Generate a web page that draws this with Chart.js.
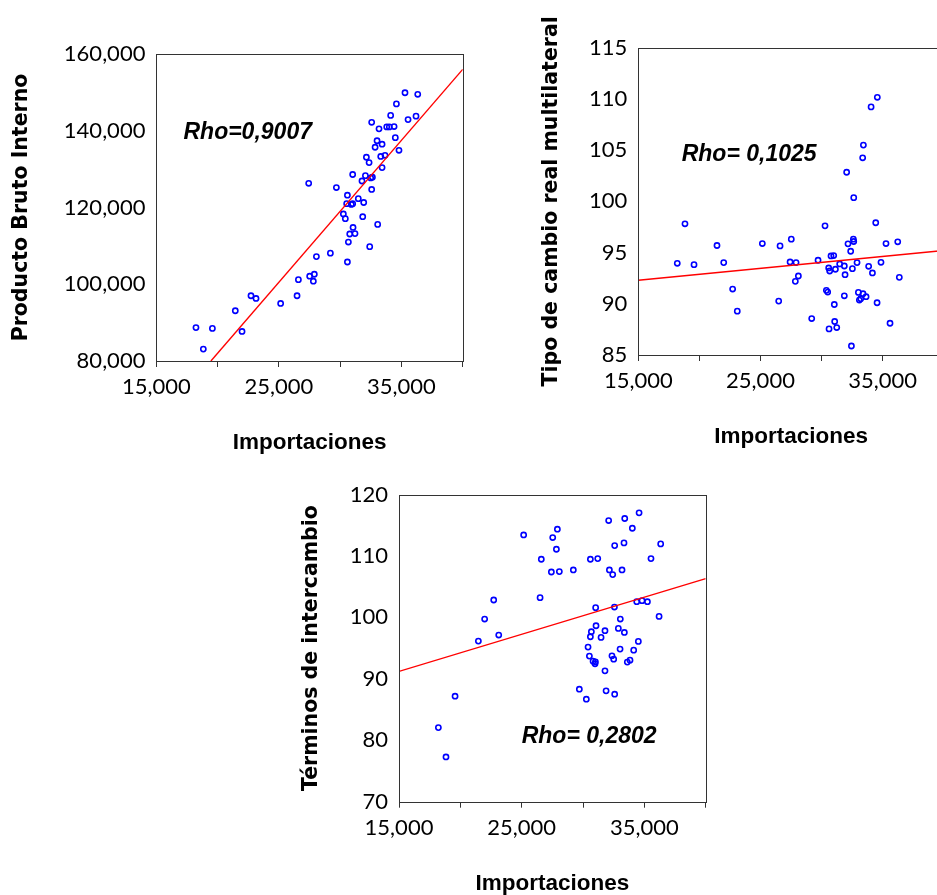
<!DOCTYPE html>
<html><head><meta charset="utf-8">
<script src="https://cdn.jsdelivr.net/npm/chart.js@4.4.1/dist/chart.umd.min.js"></script>
<style>
html,body{margin:0;padding:0;background:#fff;overflow:hidden;width:937px;height:895px;position:relative;}
canvas{position:absolute;}
</style></head><body>
<canvas id="c1" width="480" height="470" style="left:0;top:0"></canvas>
<canvas id="c2" width="474" height="470" style="left:480px;top:0"></canvas>
<canvas id="c3" width="520" height="450" style="left:200px;top:460px"></canvas>
<script>
// ---------- DATA ----------
const xTitle = 'Importaciones';
const xTickValues = [15000, 20000, 25000, 30000, 35000, 40000];
const xTickLabels = ['15,000', '', '25,000', '', '35,000', ''];

// Chart 1: Producto Bruto Interno vs Importaciones
const pbiTitle = 'Producto Bruto Interno';
const pbiTicks = [80000, 100000, 120000, 140000, 160000];
const pbiTickLabels = ['80,000', '100,000', '120,000', '140,000', '160,000'];
const impA = [18230, 19570, 18830, 21440, 21990, 22720, 23130, 25140, 26480, 26590, 27510, 27890, 27810, 28060, 29200, 27430, 29690, 30590, 30670, 30780, 31210, 31050, 32410, 33060, 30260, 30420, 31840, 30530, 30590, 31020, 30910, 31480, 31920, 31020, 31780, 32060, 32490, 32630, 32570, 32140, 32360, 33310, 33660, 33420, 32850, 33010, 33420, 32570, 33170, 33800, 34010, 34400, 34500, 34800, 34120, 34590, 35290, 35540, 36190, 36330];
const pbi = [88700, 88500, 83100, 93100, 87700, 97000, 96300, 95000, 97000, 101200, 102100, 102600, 100800, 107200, 108100, 126300, 125200, 105800, 111000, 113100, 113200, 114800, 109800, 115600, 118300, 117100, 117600, 121000, 123200, 121000, 120800, 122300, 121300, 128600, 126900, 128300, 127700, 127900, 124700, 133100, 131700, 133300, 133600, 130400, 135700, 137400, 136500, 142200, 140500, 141000, 141000, 141100, 138200, 134900, 144000, 147000, 149900, 142900, 143800, 149500];
const pbiFitX = [19450, 40000];
const pbiFitY = [80000, 156000];
const pbiRho = 'Rho=0,9007';

// Chart 2: Tipo de cambio real multilateral vs Importaciones
const tcrmTitle = 'Tipo de cambio real multilateral';
const tcrmTicks = [85, 90, 95, 100, 105, 110, 115];
const tcrmTickLabels = ['85', '90', '95', '100', '105', '110', '115'];
const impB = [18190, 18820, 19560, 21440, 21990, 22720, 23100, 25150, 26490, 26600, 27520, 27420, 27910, 28100, 27850, 29190, 29710, 30280, 30390, 30500, 30580, 30660, 30770, 30990, 31040, 31070, 30610, 31240, 31130, 31480, 31860, 31920, 31860, 32050, 32160, 32380, 32600, 32630, 32630, 32520, 32900, 33010, 33390, 33640, 33090, 33200, 33360, 33420, 33850, 34160, 34050, 34560, 34430, 34540, 34860, 35270, 35600, 36230, 36360, 32440];
const tcrm = [93.95, 97.81, 93.82, 95.69, 94.02, 91.44, 89.28, 95.88, 90.26, 95.65, 96.31, 94.08, 94.02, 92.71, 92.19, 88.56, 94.25, 97.61, 91.31, 91.14, 93.50, 93.20, 94.67, 94.71, 89.93, 88.27, 87.55, 87.68, 93.37, 93.89, 93.69, 92.84, 90.78, 102.84, 95.85, 95.13, 96.31, 96.08, 100.36, 93.43, 94.02, 91.11, 90.98, 90.69, 90.36, 90.49, 104.25, 105.49, 93.66, 93.01, 109.22, 110.16, 97.91, 90.10, 94.05, 95.88, 88.10, 96.05, 92.58, 85.88];
const tcrmFitX = [15000, 40000];
const tcrmFitY = [92.3, 95.2];
const tcrmRho = 'Rho= 0,1025';

// Chart 3: Términos de intercambio vs Importaciones
const tiTitle = 'Términos de intercambio';
const tiTicks = [70, 80, 90, 100, 110, 120];
const tiTickLabels = ['70', '80', '90', '100', '110', '120'];
const impC = [18210, 18830, 19570, 21470, 21980, 22720, 23130, 25160, 26600, 26500, 27420, 27530, 27830, 27910, 28070, 29210, 29700, 30270, 30600, 31200, 31030, 31060, 30680, 30600, 30410, 30520, 30820, 31010, 30980, 31470, 31790, 31790, 31880, 32580, 32090, 32150, 32420, 32580, 32560, 32360, 32500, 32880, 33040, 33020, 33370, 33180, 33340, 33400, 34020, 33610, 33830, 34130, 34380, 34810, 35250, 34510, 34570, 35540, 36200, 36330];
const ti = [82.06, 77.28, 87.17, 96.14, 99.73, 102.83, 97.12, 113.42, 109.46, 103.21, 107.39, 112.99, 111.09, 114.35, 107.45, 107.72, 88.31, 86.68, 109.46, 109.57, 101.58, 98.64, 97.66, 96.85, 95.16, 93.70, 92.88, 92.77, 92.45, 96.74, 97.83, 91.30, 88.04, 87.50, 115.76, 107.72, 106.96, 111.68, 101.68, 93.75, 93.20, 98.21, 99.73, 94.84, 97.55, 107.72, 112.12, 116.09, 114.51, 92.72, 93.04, 94.67, 102.55, 102.72, 102.55, 96.09, 117.01, 109.57, 100.16, 111.96];
const tiFitX = [15000, 40000];
const tiFitY = [91.2, 106.3];
const tiRho = 'Rho= 0,2802';

// ---------- RENDER ----------
Chart.defaults.font.family = 'Lato';
Chart.defaults.color = '#000';

const boxPlugin = {
  id: 'box',
  afterDatasetsDraw(chart) {
    const {ctx, chartArea: a} = chart;
    ctx.save();
    ctx.strokeStyle = '#333';
    ctx.lineWidth = 1;
    const l = Math.round(a.left) + 0.5, t = Math.round(a.top) + 0.5;
    const r = Math.round(a.right) + 0.5, b = Math.round(a.bottom) + 0.5;
    ctx.strokeRect(l, t, r - l, b - t);
    ctx.restore();
  }
};
const rhoPlugin = {
  id: 'rho',
  afterDatasetsDraw(chart, args, opts) {
    const {ctx, scales} = chart;
    ctx.save();
    ctx.font = 'italic bold 23px "Liberation Sans", Arial, sans-serif';
    ctx.fillStyle = '#000';
    ctx.textAlign = 'left';
    ctx.textBaseline = 'alphabetic';
    ctx.fillText(opts.text, scales.x.getPixelForValue(opts.x), scales.y.getPixelForValue(opts.y));
    ctx.restore();
  }
};

function makeChart(id, o) {
  const pts = o.xs.map((x, i) => ({x: x, y: o.ys[i]}));
  const fit = o.fx.map((x, i) => ({x: x, y: o.fy[i]}));
  return new Chart(document.getElementById(id), {
    type: 'scatter',
    data: {
      datasets: [
        {data: fit, showLine: true, borderColor: '#ff0000', borderWidth: 1.4, pointRadius: 0, fill: false},
        {data: pts, pointRadius: 2.6, pointBorderWidth: 1.6, pointBorderColor: '#0000ff', pointBackgroundColor: 'rgba(0,0,0,0)', showLine: false}
      ]
    },
    options: {
      responsive: false,
      animation: false,
      events: [],
      layout: {padding: {left: 0, top: o.padTop, right: o.padRight, bottom: 0}},
      plugins: {
        legend: {display: false},
        tooltip: {enabled: false},
        rho: {text: o.rho, x: o.rx, y: o.ry}
      },
      scales: {
        x: {
          type: 'linear', min: xTickValues[0], max: xTickValues[xTickValues.length - 1],
          afterFit(s) { s.height = o.xh; },
          afterBuildTicks(s) { s.ticks = xTickValues.map(v => ({value: v})); },
          ticks: {
            autoSkip: false, maxRotation: 0, minRotation: 0, padding: 9, color: '#000',
            font: {family: 'Lato', size: 22, lineHeight: 1},
            callback: (v) => { const i = xTickValues.indexOf(v); return i >= 0 ? xTickLabels[i] : ''; }
          },
          grid: {display: true, drawOnChartArea: false, drawTicks: true, tickLength: 6, color: '#333', lineWidth: 1},
          border: {display: false},
          title: {display: true, text: xTitle, color: '#000',
            font: {family: 'Liberation Sans', weight: 'bold', size: 22.5, lineHeight: 1},
            padding: {top: 0, bottom: o.xtp}}
        },
        y: {
          type: 'linear', min: o.yt[0], max: o.yt[o.yt.length - 1],
          afterFit(s) { s.width = o.yw; },
          afterBuildTicks(s) { s.ticks = o.yt.map(v => ({value: v})); },
          ticks: {
            padding: 11, color: '#000',
            font: {family: 'Lato', size: 22, lineHeight: 1},
            callback: (v) => { const i = o.yt.indexOf(v); return i >= 0 ? o.yl[i] : ''; }
          },
          grid: {display: false, drawTicks: false},
          border: {display: false},
          title: {display: true, text: o.ytitle, color: '#000',
            font: {family: 'DejaVu Sans', weight: 'bold', size: 20.5, lineHeight: 1},
            padding: {top: o.ytp, bottom: 0}}
        }
      }
    },
    plugins: [boxPlugin, rhoPlugin]
  });
}

makeChart('c1', {xs: impA, ys: pbi, fx: pbiFitX, fy: pbiFitY, yt: pbiTicks, yl: pbiTickLabels,
  ytitle: pbiTitle, rho: pbiRho, rx: 17210, ry: 137800,
  padTop: 54, padRight: 17.3, yw: 156.4, xh: 109, xtp: 15.8, ytp: 11});
makeChart('c2', {xs: impB, ys: tcrm, fx: tcrmFitX, fy: tcrmFitY, yt: tcrmTicks, yl: tcrmTickLabels,
  ytitle: tcrmTitle, rho: tcrmRho, rx: 18550, ry: 103.97,
  padTop: 47.7, padRight: 10.2, yw: 158.3, xh: 115, xtp: 21.7, ytp: 61});
makeChart('c3', {xs: impC, ys: ti, fx: tiFitX, fy: tiFitY, yt: tiTicks, yl: tiTickLabels,
  ytitle: tiTitle, rho: tiRho, rx: 25000, ry: 79.5,
  padTop: 34.5, padRight: 14.3, yw: 199, xh: 108.3, xtp: 15, ytp: 101.4});
</script>
</body></html>
